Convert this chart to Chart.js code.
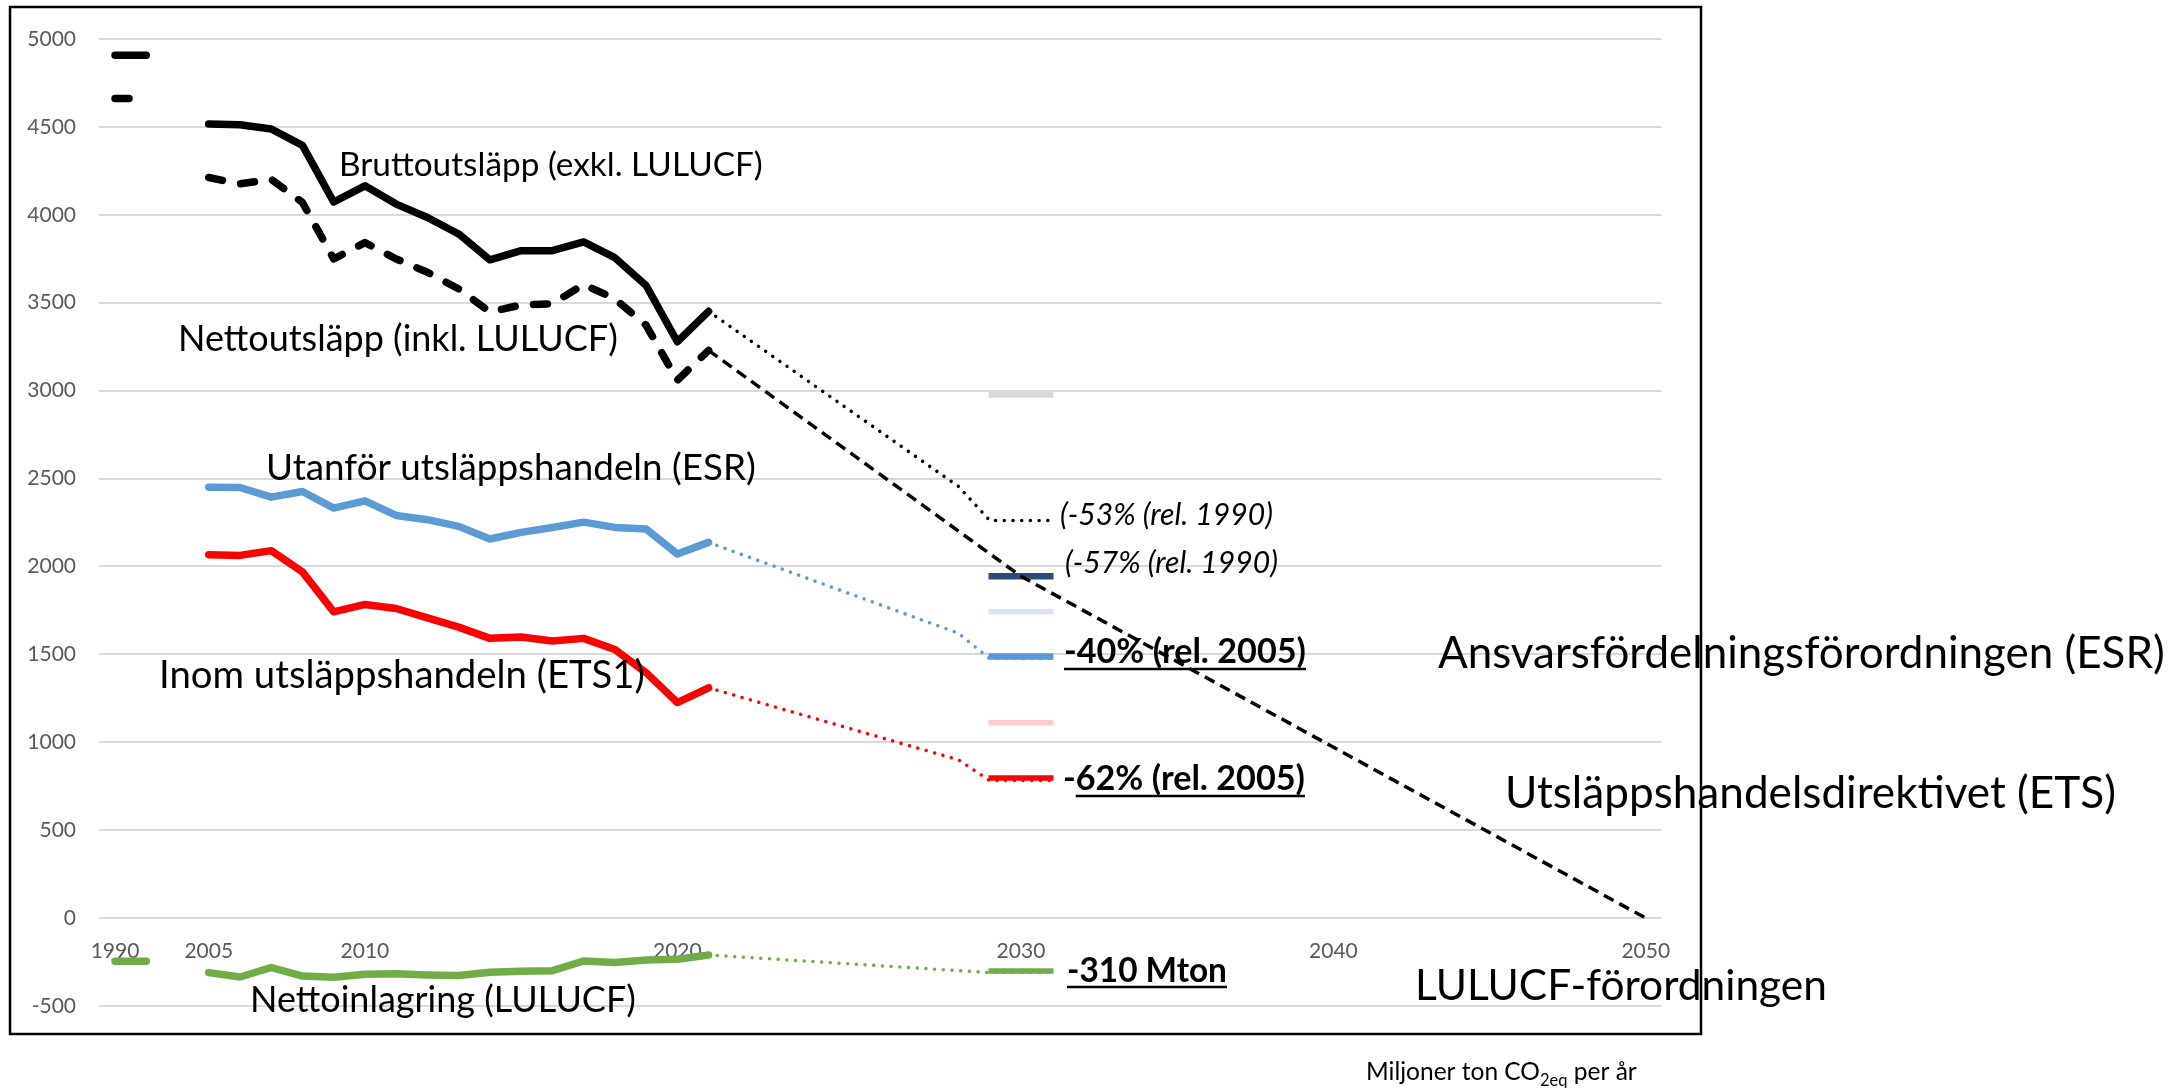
<!DOCTYPE html>
<html>
<head>
<meta charset="utf-8">
<script src="https://cdn.jsdelivr.net/npm/chart.js@4.4.1/dist/chart.umd.min.js"></script>
<style>
  html, body { margin: 0; padding: 0; background: #fff; }
  #wrap { width: 2177px; height: 1088px; }
</style>
</head>
<body>
<div id="wrap"><canvas id="chart" width="2177" height="1088"></canvas></div>
<script>
const FONT = "Lato, 'Liberation Sans', sans-serif";

// category axis (Excel-style): 1990, two hidden slots, yearly 2005-2029, a spare slot, 2030-2050
const categories = ['1990','1991','2000','2005','2006','2007','2008','2009','2010','2011','2012','2013',
  '2014','2015','2016','2017','2018','2019','2020','2021','2022','2023','2024','2025','2026','2027',
  '2028','2029',' ','2030','2031','2032','2033','2034','2035','2036','2037','2038','2039','2040',
  '2041','2042','2043','2044','2045','2046','2047','2048','2049','2050'];
const shownTicks = ['1990','2005','2010','2020','2030','2040','2050'];

// 1990 reference level (drawn as a short segment)
const years1990 = ['1990', '1991'];
const brutto1990 = [4907, 4907];
const netto1990 = [4662, 4662];
const lulucf1990 = [-246, -246];

// historical series, Mton CO2eq
const histYears = ['2005','2006','2007','2008','2009','2010','2011','2012','2013','2014','2015',
  '2016','2017','2018','2019','2020','2021'];
const brutto = [4516, 4512, 4488, 4395, 4073, 4165, 4061, 3985, 3891, 3744, 3796, 3796, 3846, 3756, 3598, 3278, 3451];
const netto  = [4212, 4176, 4202, 4070, 3749, 3842, 3749, 3673, 3579, 3447, 3488, 3494, 3604, 3522, 3372, 3059, 3229];
const esr    = [2451, 2449, 2394, 2426, 2332, 2373, 2290, 2266, 2228, 2156, 2194, 2222, 2252, 2222, 2213, 2071, 2137];
const ets    = [2067, 2063, 2090, 1969, 1742, 1784, 1761, 1708, 1655, 1591, 1599, 1576, 1591, 1528, 1396, 1226, 1310];
const lulucf = [-310, -335, -281, -330, -336, -320, -317, -323, -327, -308, -302, -299, -244, -253, -238, -234, -210];

// projections towards 2030 / 2050
const projYears = ['2021', '2029', ' ', '2030', '2031'];
const bruttoProj = [3451, 2455, 2262, 2262, 2262];
const esrProj    = [2137, 1620, 1476, 1476, 1476];
const etsProj    = [1310, 900, 782, 782, 782];
const lulucfProjYears = ['2021', ' ', '2030', '2031'];
const lulucfProj = [-210, -310, -310, -310];
const nettoPathYears = ['2021', '2030', '2050'];
const nettoPath = [3229, 1944, 0];

// 2030 target markers
const target2030 = [2978, 1944, 1742, 1488, 1111, 797, -301];
const targetColors = ['#d9d9d9', '#2e4a7b', '#dae3f3', '#5b9bd5', '#ffcccc', '#ff0000', '#70ad47'];
const targetThickness = [6.5, 6.5, 5.5, 6.5, 5.5, 5.5, 5.5];

// texts
const seriesLabels = ['Bruttoutsläpp (exkl. LULUCF)', 'Nettoutsläpp (inkl. LULUCF)',
  'Utanför utsläppshandeln (ESR)', 'Inom utsläppshandeln (ETS1)', 'Nettoinlagring (LULUCF)'];
const regulationLabels = ['Ansvarsfördelningsförordningen (ESR)', 'Utsläppshandelsdirektivet (ETS)', 'LULUCF-förordningen'];
const noteLabels = ['(-53% (rel. 1990)', '(-57% (rel. 1990)'];
const targetLabels = ['-40% (rel. 2005)', '-62% (rel. 2005)', '-310 Mton'];
const unitParts = ['Miljoner ton CO', '2eq', ' per år'];

const pts = (xs, ys) => xs.map((x, i) => ({ x, y: ys[i] }));

function lineDs(xs, ys, color, width, extra) {
  return Object.assign({
    data: pts(xs, ys),
    borderColor: color,
    backgroundColor: color,
    borderWidth: width,
    pointRadius: 0,
    borderJoinStyle: 'round',
    borderCapStyle: 'round',
    tension: 0
  }, extra || {});
}

const dotted = { borderDash: [0.01, 8.7], borderCapStyle: 'round' };
const withGap = (a, ys) => [...a, null, ...ys];
const histX = [...years1990, '2000', ...histYears];

const datasets = [
  lineDs(nettoPathYears, nettoPath, '#000', 3.5, { borderDash: [11, 6.5], borderCapStyle: 'butt' }),
  ...target2030.map((v, i) => ({
    data: [{ x: '2030', y: v }],
    showLine: false,
    pointStyle: 'line',
    pointRadius: 32.5,
    pointBorderWidth: targetThickness[i],
    pointBorderColor: targetColors[i],
    pointBackgroundColor: targetColors[i]
  })),
  lineDs(projYears, bruttoProj, '#000', 3.5, dotted),
  lineDs(projYears, esrProj, '#5b9bd5', 3.5, dotted),
  lineDs(projYears, etsProj, '#ff0000', 3.5, dotted),
  lineDs(lulucfProjYears, lulucfProj, '#70ad47', 3.5, dotted),
  lineDs(histX, withGap(brutto1990, brutto), '#000', 7.5),
  lineDs(histX, withGap(netto1990, netto), '#000', 7.5, { borderDash: [14, 18.5] }),
  lineDs(histYears, esr, '#5b9bd5', 7.5),
  lineDs(histYears, ets, '#ff0000', 7.5),
  lineDs(histX, withGap(lulucf1990, lulucf), '#70ad47', 7.5)
];

// draw text so that it spans the given width
function fitText(ctx, text, style, x, y, width) {
  ctx.font = `${style} 100px ${FONT}`;
  const size = 100 * width / ctx.measureText(text).width;
  ctx.font = `${style} ${size}px ${FONT}`;
  ctx.fillText(text, x, y);
  return size;
}

const overlay = {
  id: 'overlay',
  afterDraw(chart) {
    const ctx = chart.ctx;
    ctx.save();
    ctx.strokeStyle = '#000';
    ctx.lineWidth = 2.5;
    ctx.strokeRect(10, 7, 1691, 1027);

    ctx.fillStyle = '#000';
    ctx.textAlign = 'left';
    ctx.textBaseline = 'alphabetic';

    // [x, baseline, width]
    const seriesPos = [[339, 176, 424], [178, 351, 440], [266, 480, 490], [159, 688, 486], [250, 1012, 386]];
    seriesLabels.forEach((t, i) => fitText(ctx, t, '', ...seriesPos[i]));

    const regPos = [[1438, 668, 727], [1505, 808, 611], [1415, 1000, 412]];
    regulationLabels.forEach((t, i) => fitText(ctx, t, '', ...regPos[i]));

    const notePos = [[1060, 525, 213], [1065, 573, 213]];
    noteLabels.forEach((t, i) => fitText(ctx, t, 'italic', ...notePos[i]));

    // [x, baseline, width, underline y, underline skips leading minus]
    const targetPos = [[1064, 663, 242, 669, false], [1063, 790, 242, 796, true], [1067, 982, 160, 987, false]];
    ctx.lineWidth = 2.5;
    targetLabels.forEach((t, i) => {
      const [x, y, w, uy, skipMinus] = targetPos[i];
      fitText(ctx, t, 'bold', x, y, w);
      const x0 = skipMinus ? x + ctx.measureText('-').width : x;
      ctx.beginPath();
      ctx.moveTo(x0, uy);
      ctx.lineTo(x + w, uy);
      ctx.stroke();
    });

    // unit label with subscript
    const main = 24.5, sub = 16.5;
    let ux = 1366;
    const uy = 1080;
    ctx.font = `${main}px ${FONT}`;
    ctx.fillText(unitParts[0], ux, uy);
    ux += ctx.measureText(unitParts[0]).width;
    ctx.font = `${sub}px ${FONT}`;
    ctx.fillText(unitParts[1], ux, uy + 6);
    ux += ctx.measureText(unitParts[1]).width;
    ctx.font = `${main}px ${FONT}`;
    ctx.fillText(unitParts[2], ux, uy);
    ctx.restore();
  }
};

new Chart(document.getElementById('chart'), {
  type: 'line',
  data: { labels: categories, datasets },
  options: {
    responsive: false,
    animation: false,
    devicePixelRatio: 1,
    layout: { padding: { left: 0, right: 515.6, top: 36, bottom: 82 } },
    plugins: { legend: { display: false }, tooltip: { enabled: false } },
    scales: {
      x: {
        type: 'category',
        position: { y: 0 },
        offset: true,
        grid: { display: false },
        border: { display: false },
        ticks: {
          autoSkip: false,
          maxRotation: 0,
          color: '#595959',
          font: { family: FONT, size: 21 },
          padding: 12.5,
          callback(v, i) {
            const l = categories[i];
            return shownTicks.includes(l) ? l : '';
          }
        }
      },
      y: {
        min: -500,
        max: 5000,
        ticks: {
          stepSize: 500,
          color: '#595959',
          font: { family: FONT, size: 21 },
          padding: 23.4,
          callback: v => String(v)
        },
        grid: { color: '#d9d9d9', lineWidth: 2, drawTicks: false },
        border: { display: false },
        afterFit(scale) { scale.width = 99.4; }
      }
    }
  },
  plugins: [overlay]
});
</script>
</body>
</html>
